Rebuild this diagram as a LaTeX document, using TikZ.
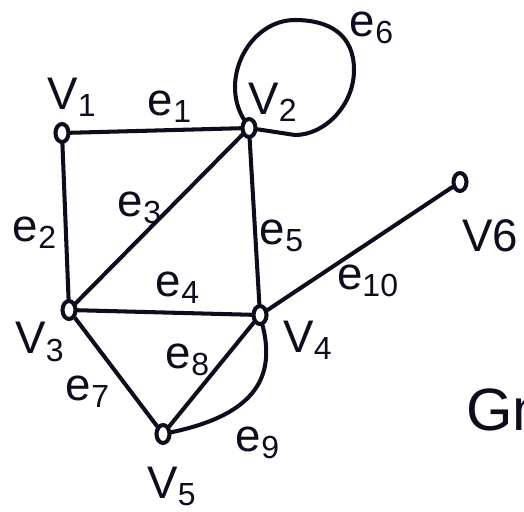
\documentclass[tikz,border=0pt]{standalone}
\usepackage{fontspec}
\setmainfont{Liberation Sans}
\usetikzlibrary{positioning, shapes.geometric}

\definecolor{ink}{RGB}{12,14,30}

\begin{document}
\begin{tikzpicture}[
  x=0.02cm, y=-0.02cm,
  vert/.style={draw=ink, ellipse, fill=white, line width=2.3pt,
    inner sep=0pt, minimum width=0.26cm, minimum height=0.36cm},
  link/.style={draw=ink, line width=2.3pt, line cap=round},
  lbl/.style={font=\fontsize{26}{30}\selectfont, text=ink, inner sep=0pt},
]
\useasboundingbox[fill=white] (0,0) rectangle (524,511);

% === Vertices ===
\node[vert] (v1) at (62,133) {};
\node[vert] (v2) at (249,128) {};
\node[vert] (v3) at (69,310) {};
\node[vert] (v4) at (260,315) {};
\node[vert] (v5) at (163,434) {};
\node[vert] (v6) at (460,182) {};

% points of the self loop
\coordinate (e6top) at (295,20);
\coordinate (e6right) at (354,70);
\coordinate (e6foot) at (295,135);

% === Edges ===
\draw[link] (v1) -- (v2);
\draw[link] (v1) -- (v3);
\draw[link] (v2) -- (v3);
\draw[link] (v3) -- (v4);
\draw[link] (v2) -- (v4);
\draw[link] (v2) .. controls +(-30,-50) and +(-45,0) .. (e6top)
  .. controls +(35,0) and +(0,-35) .. (e6right)
  .. controls +(0,35) and +(30,0) .. (e6foot) -- (v2);
\draw[link] (v3) -- (v5);
\draw[link] (v5) -- (v4);
\draw[link] (v5) .. controls +(95,-20) and +(15,60) .. (v4);
\draw[link] (v4) -- (v6);

% === Vertex labels ===
\node[lbl] (lv1) at (72,97) {V\textsubscript{1}};
\node[lbl] (lv2) at (273,102) {V\textsubscript{2}};
\node[lbl] (lv3) at (40,342) {V\textsubscript{3}};
\node[lbl] (lv4) at (308,340) {V\textsubscript{4}};
\node[lbl] (lv5) at (172,486) {V\textsubscript{5}};
\node[lbl] (lv6) at (490,236) {V6};

% === Edge labels ===
\node[lbl] (le1) at (170,107) {e\textsubscript{1}};
\node[lbl] (le2) at (35,233) {e\textsubscript{2}};
\node[lbl] (le3) at (140,208) {e\textsubscript{3}};
\node[lbl] (le4) at (178,288) {e\textsubscript{4}};
\node[lbl] (le5) at (282,236) {e\textsubscript{5}};
\node[lbl] (le6) at (372,28) {e\textsubscript{6}};
\node[lbl] (le7) at (88,392) {e\textsubscript{7}};
\node[lbl] (le8) at (188,360) {e\textsubscript{8}};
\node[lbl] (le9) at (258,443) {e\textsubscript{9}};
\node[lbl] (le10) at (368,281) {e\textsubscript{10}};

% side note, cut at the edge
\node[lbl, font=\fontsize{34}{38}\selectfont, anchor=west] (note) at (466,410) {Gm};

\end{tikzpicture}
\end{document}
